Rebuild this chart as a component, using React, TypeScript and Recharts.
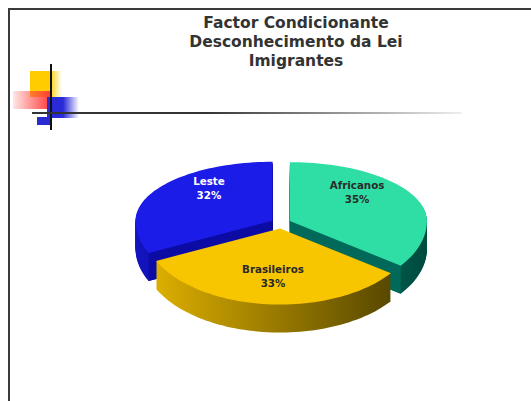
import React from "react";
import { PieChart, Pie } from "recharts";

// slice data (clockwise from Leste's lower edge)
const categories = ["Leste", "Africanos", "Brasileiros"];
const shares = [32, 35, 33];
const titleLines = ["Factor Condicionante", "Desconhecimento da Lei", "Imigrantes"];

const TOP_COLORS = ["#1c1ce8", "#2fdea4", "#f7c600"];
const WALL_COLORS = [
  ["#1414c0", "#07077e"],
  ["#00826c", "#004a3e"],
  ["#dcae00", "#584800"],
];
const FACE_COLORS = ["#0c0ca4", "#00695a", "#b08c00"];
const LABEL_COLORS = ["#ffffff", "#2a2a2a", "#2a2a2a"];

const data = categories.map((name, i) => ({ name, value: shares[i] }));
const total = shares.reduce((a, b) => a + b, 0);
// first slice ends at 12 o'clock
const START = 90 + (360 * shares[0]) / total;

const RAD = Math.PI / 180;
const K_BACK = 0.43;
const K_FRONT = 0.555;
const DEPTH = 28;
const EXPLODE = 10;

const proj = (cx: number, cy: number, r: number, deg: number) => {
  const s = Math.sin(deg * RAD);
  const k = s > 0 ? K_BACK : K_FRONT;
  return [cx + r * Math.cos(deg * RAD), cy - r * k * s];
};

const arcPts = (cx: number, cy: number, r: number, a0: number, a1: number) => {
  const n = Math.max(8, Math.ceil(Math.abs(a1 - a0) / 2));
  const pts: number[][] = [];
  for (let i = 0; i <= n; i++) pts.push(proj(cx, cy, r, a0 + ((a1 - a0) * i) / n));
  return pts;
};

const sliceCenter = (p: any) => {
  const [ex, ey] = proj(0, 0, EXPLODE, p.midAngle);
  return [p.cx + ex, p.cy + ey];
};

const idxOf = (p: any) => categories.indexOf(p.payload?.name ?? p.name);

const sectorPath = (p: any, dy: number) => {
  const [cx, cy] = sliceCenter(p);
  const pts = arcPts(cx, cy + dy, p.outerRadius, p.startAngle, p.endAngle);
  return `M${cx},${cy + dy} ` + pts.map((q) => `L${q[0]},${q[1]}`).join(" ") + " Z";
};

const WallShape = (p: any) => {
  const i = idxOf(p);
  const [cx, cy] = sliceCenter(p);
  const gid = `wall-${i}`;
  const layers = [];
  for (let d = DEPTH; d >= 1; d--) {
    layers.push(<path key={d} d={sectorPath(p, d)} fill={`url(#${gid})`} />);
  }
  // radial cut faces that turn toward the viewer
  const faces = [];
  const edges = [
    { a: p.startAngle, n: p.startAngle + 90 },
    { a: p.endAngle, n: p.endAngle - 90 },
  ];
  edges.forEach((e, k) => {
    if (Math.sin(e.n * RAD) < -0.05) {
      const [x, y] = proj(cx, cy, p.outerRadius, e.a);
      faces.push(
        <path
          key={`f${k}`}
          d={`M${cx},${cy} L${x},${y} L${x},${y + DEPTH} L${cx},${cy + DEPTH} Z`}
          fill={FACE_COLORS[i]}
        />
      );
    }
  });
  return (
    <g>
      <defs>
        <linearGradient id={gid} x1="0" y1="0" x2="1" y2="0">
          <stop offset="0%" stopColor={WALL_COLORS[i][0]} />
          <stop offset="100%" stopColor={WALL_COLORS[i][1]} />
        </linearGradient>
      </defs>
      {layers}
      {faces}
    </g>
  );
};

const TopShape = (p: any) => {
  const i = idxOf(p);
  return <path d={sectorPath(p, 0)} fill={TOP_COLORS[i]} />;
};

const renderLabel = (p: any) => {
  const i = idxOf(p);
  const [cx, cy] = sliceCenter(p);
  const s = Math.sin(p.midAngle * RAD);
  const x = cx + Math.cos(p.midAngle * RAD) * p.outerRadius * 0.55;
  const y = cy - s * p.outerRadius * (s > 0 ? K_BACK : K_FRONT) * 0.75;
  return (
    <text
      x={x}
      y={y}
      textAnchor="middle"
      fill={LABEL_COLORS[i]}
      style={{ fontFamily: "DejaVu Sans", fontWeight: 700, fontSize: "10.3px" }}
    >
      <tspan x={x} dy={-12}>{categories[i]}</tspan>
      <tspan x={x} dy={14}>{`${Math.round(p.percent * 100)}%`}</tspan>
    </text>
  );
};

const abs = (s: React.CSSProperties): React.CSSProperties => ({ position: "absolute", ...s });

export default function App() {
  return (
    <div style={abs({ left: 0, top: 0, width: 531, height: 401, background: "#fff", overflow: "hidden" })}>
      {/* slide frame */}
      <div style={abs({ left: 8, top: 8, width: 540, height: 400, borderTop: "2px solid #3a3a3a", borderLeft: "2px solid #3a3a3a" })} />

      {/* template decoration */}
      <div style={abs({ left: 30, top: 71, width: 32, height: 26, background: "linear-gradient(to right, #ffcc00 60%, rgba(255,204,0,0))" })} />
      <div style={abs({ left: 13, top: 91, width: 38, height: 18, background: "linear-gradient(to right, rgba(255,90,90,0.15), #ff3a3a)" })} />
      <div style={abs({ left: 47, top: 97, width: 32, height: 21, background: "linear-gradient(to right, #2a2ad8 50%, rgba(42,42,216,0))" })} />
      <div style={abs({ left: 37, top: 117, width: 14, height: 8, background: "#2a2ad0" })} />
      <div style={abs({ left: 50, top: 64, width: 2, height: 66, background: "#111" })} />
      <div style={abs({ left: 32, top: 112, width: 430, height: 2, background: "linear-gradient(to right, #333 40%, rgba(200,200,200,0.3))" })} />

      {/* title */}
      <div
        style={abs({
          left: 146,
          top: 14,
          width: 300,
          textAlign: "center",
          fontFamily: "DejaVu Sans",
          fontWeight: 700,
          fontSize: 15.5,
          lineHeight: "19px",
          color: "#333",
        })}
      >
        {titleLines.map((t) => (
          <div key={t}>{t}</div>
        ))}
      </div>

      <div style={abs({ left: 0, top: 0 })}>
        <PieChart width={531} height={401}>
          <Pie
            data={data}
            dataKey="value"
            nameKey="name"
            cx={276}
            cy={218}
            outerRadius={137}
            startAngle={START}
            endAngle={START - 360}
            stroke="none"
            shape={WallShape}
            isAnimationActive={false}
          />
          <Pie
            data={data}
            dataKey="value"
            nameKey="name"
            cx={276}
            cy={218}
            outerRadius={137}
            startAngle={START}
            endAngle={START - 360}
            stroke="none"
            shape={TopShape}
            label={renderLabel}
            labelLine={false}
            isAnimationActive={false}
          />
        </PieChart>
      </div>
    </div>
  );
}
